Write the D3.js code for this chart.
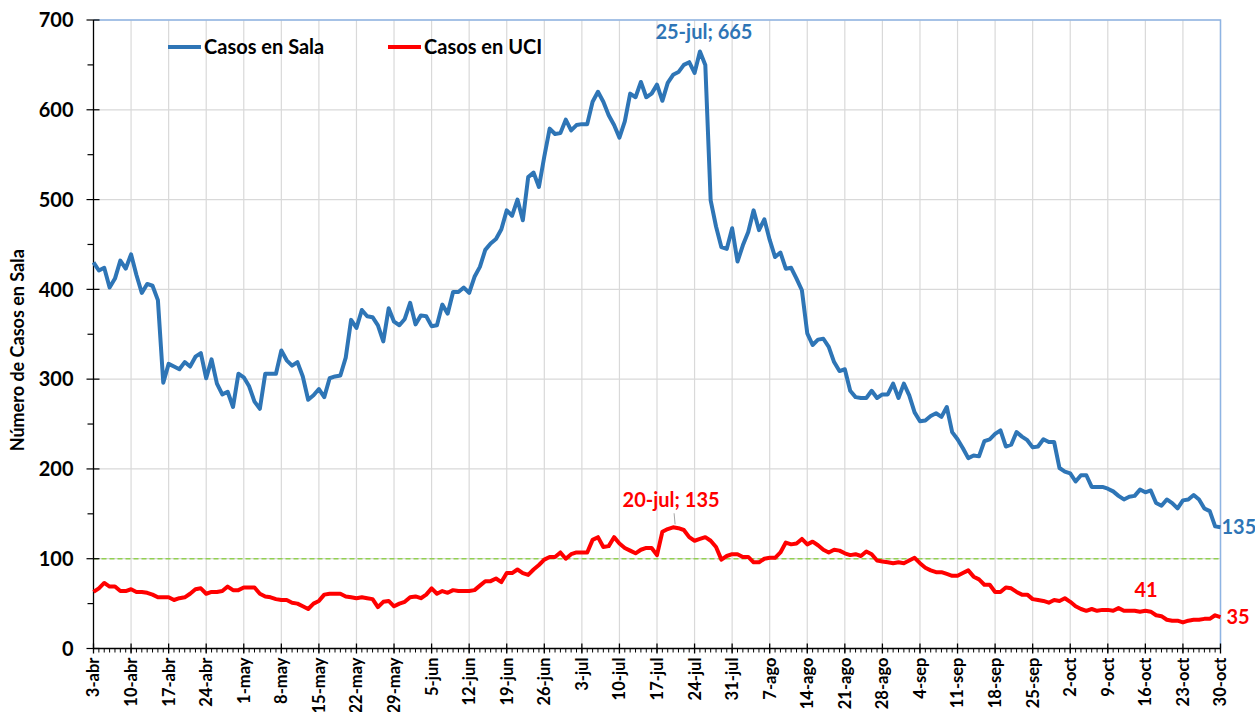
<!DOCTYPE html>
<html>
<head>
<meta charset="utf-8">
<script src="https://cdn.jsdelivr.net/npm/d3@7"></script>
<style>
  body { margin: 0; background: #fff; }
  svg { display: block; font-family: Lato, "Open Sans", sans-serif; }
</style>
</head>
<body>
<svg id="chart" width="1255" height="712"></svg>
<script>
// daily values from 3-abr (index 0) to 30-oct (index 210)
const casosSala = [
  430, 421, 424, 402, 412, 432, 423,
  439, 416, 396, 406, 404, 388, 296,
  317, 314, 311, 319, 314, 325, 329,
  301, 322, 295, 283, 286, 269, 306,
  302, 292, 275, 267, 306, 306, 306,
  332, 321, 315, 319, 303, 277, 282,
  289, 280, 301, 303, 304, 324, 366,
  357, 377, 370, 369, 360, 342, 379,
  364, 360, 367, 385, 361, 371, 370,
  359, 360, 383, 373, 397, 397, 402,
  396, 414, 425, 444, 451, 456, 467,
  488, 482, 500, 477, 525, 530, 514,
  548, 579, 573, 574, 589, 577, 583,
  584, 584, 609, 620, 609, 594, 583,
  569, 587, 618, 614, 631, 614, 618,
  628, 610, 630, 639, 642, 650, 653,
  641, 665, 650, 499, 470, 447, 445,
  468, 431, 449, 464, 488, 466, 478,
  455, 436, 441, 423, 424, 412, 399,
  351, 338, 344, 345, 336, 319, 309,
  311, 287, 280, 279, 279, 287, 279,
  283, 283, 295, 279, 295, 282, 263,
  253, 254, 259, 262, 258, 269, 241,
  233, 223, 212, 215, 214, 231, 233,
  239, 243, 225, 227, 241, 236, 232,
  224, 225, 233, 230, 230, 201, 197,
  195, 186, 193, 193, 180, 180, 180,
  178, 175, 170, 166, 169, 170, 177,
  174, 176, 162, 159, 166, 162, 156,
  165, 166, 171, 166, 156, 153, 136,
  135
];

const casosUci = [
  63, 67, 73, 69, 69, 64, 64,
  66, 63, 63, 62, 60, 57, 57,
  57, 54, 56, 57, 61, 66, 67,
  61, 63, 63, 64, 69, 65, 65,
  68, 68, 68, 61, 58, 57, 55,
  54, 54, 51, 50, 47, 44, 50,
  53, 60, 61, 61, 61, 58, 57,
  56, 57, 56, 55, 46, 52, 53,
  47, 50, 52, 57, 58, 56, 60,
  67, 61, 64, 62, 65, 64, 64,
  64, 65, 70, 75, 75, 78, 74,
  84, 84, 88, 84, 82, 88, 93,
  99, 102, 102, 107, 100, 105, 107,
  107, 107, 121, 124, 113, 114, 124,
  117, 112, 109, 106, 110, 112, 112,
  104, 130, 133, 135, 134, 132, 124,
  120, 122, 124, 120, 113, 99, 103,
  105, 105, 102, 102, 96, 96, 100,
  101, 101, 107, 118, 116, 117, 122,
  116, 119, 115, 110, 107, 110, 109,
  106, 104, 105, 103, 108, 105, 98,
  97, 96, 95, 96, 95, 98, 101,
  95, 90, 87, 85, 85, 83, 81,
  81, 84, 87, 80, 77, 71, 71,
  63, 63, 68, 67, 63, 60, 60,
  55, 54, 53, 51, 54, 53, 56,
  52, 47, 44, 42, 44, 42, 43,
  43, 42, 45, 42, 42, 42, 41,
  42, 41, 37, 36, 32, 31, 31,
  29, 31, 32, 32, 33, 33, 37,
  35
];

const fechasTicks = [
  "3-abr", "10-abr", "17-abr", "24-abr", "1-may", "8-may", "15-may", "22-may",
  "29-may", "5-jun", "12-jun", "19-jun", "26-jun", "3-jul", "10-jul", "17-jul",
  "24-jul", "31-jul", "7-ago", "14-ago", "21-ago", "28-ago", "4-sep", "11-sep",
  "18-sep", "25-sep", "2-oct", "9-oct", "16-oct", "23-oct", "30-oct"
];

const yTicks = [0, 100, 200, 300, 400, 500, 600, 700];
const umbral = 100;

const margin = {top: 20, right: 35, bottom: 63, left: 93};
const width = 1255, height = 712;

const svg = d3.select("#chart");

const nDias = casosSala.length;
const x = d3.scaleLinear()
  .domain([0, nDias - 1])
  .range([margin.left + 0.5, width - margin.right + 0.5]);
const y = d3.scaleLinear()
  .domain([0, 700])
  .range([height - margin.bottom - 0.5, margin.top]);

const tickIdx = fechasTicks.map((d, i) => i * 7);

// grid
svg.append("g")
  .selectAll("line.vg")
  .data(tickIdx.slice(1))
  .join("line")
  .attr("x1", d => x(d)).attr("x2", d => x(d))
  .attr("y1", y(0)).attr("y2", y(700))
  .attr("stroke", "#d9d9d9").attr("stroke-width", 1.2);

svg.append("g")
  .selectAll("line.hg")
  .data(yTicks.slice(1))
  .join("line")
  .attr("x1", x(0)).attr("x2", x(nDias - 1))
  .attr("y1", d => y(d)).attr("y2", d => y(d))
  .attr("stroke", "#d9d9d9").attr("stroke-width", 1.2);

// frame top/right
svg.append("path")
  .attr("d", `M${x(0)},${y(700)}H${x(nDias - 1)}V${y(0)}`)
  .attr("fill", "none").attr("stroke", "#8eb4e3").attr("stroke-width", 1.5);

// threshold line
svg.append("line")
  .attr("x1", x(0)).attr("x2", x(nDias - 1))
  .attr("y1", y(umbral)).attr("y2", y(umbral))
  .attr("stroke", "#92d050").attr("stroke-width", 1.6)
  .attr("stroke-dasharray", "5,3");

// y axis
const yAxis = svg.append("g").attr("transform", `translate(${x(0)},0)`);
yAxis.append("line")
  .attr("y1", y(0)).attr("y2", y(700))
  .attr("stroke", "#000").attr("stroke-width", 1.3);
yAxis.selectAll("line.maj")
  .data(yTicks)
  .join("line")
  .attr("x1", -7).attr("x2", 6)
  .attr("y1", d => y(d)).attr("y2", d => y(d))
  .attr("stroke", "#000").attr("stroke-width", 1.2);
yAxis.selectAll("line.min")
  .data(d3.range(50, 700, 100))
  .join("line")
  .attr("x1", -6).attr("x2", 0)
  .attr("y1", d => y(d)).attr("y2", d => y(d))
  .attr("stroke", "#000").attr("stroke-width", 1.2);
yAxis.selectAll("text")
  .data(yTicks)
  .join("text")
  .attr("x", -20).attr("y", d => y(d))
  .attr("dy", "0.36em")
  .attr("text-anchor", "end")
  .attr("font-size", 20).attr("font-weight", 700)
  .text(d => d);

svg.append("text")
  .attr("transform", `translate(24,${(y(0) + y(700)) / 2 + 16}) rotate(-90)`)
  .attr("text-anchor", "middle")
  .attr("font-size", 18).attr("font-weight", 700)
  .text("Número de Casos en Sala");

// x axis
const xAxis = svg.append("g").attr("transform", `translate(0,${y(0)})`);
xAxis.append("line")
  .attr("x1", x(0)).attr("x2", x(nDias - 1))
  .attr("stroke", "#000").attr("stroke-width", 1.3);
xAxis.selectAll("line.min")
  .data(d3.range(nDias))
  .join("line")
  .attr("x1", d => x(d)).attr("x2", d => x(d))
  .attr("y1", 0).attr("y2", 4)
  .attr("stroke", "#000").attr("stroke-width", 1);
xAxis.selectAll("line.maj")
  .data(tickIdx)
  .join("line")
  .attr("x1", d => x(d)).attr("x2", d => x(d))
  .attr("y1", -5).attr("y2", 5)
  .attr("stroke", "#000").attr("stroke-width", 1.3);
xAxis.selectAll("text")
  .data(fechasTicks)
  .join("text")
  .attr("transform", (d, i) => `translate(${x(tickIdx[i])},9) rotate(-90)`)
  .attr("dy", "0.36em")
  .attr("text-anchor", "end")
  .attr("font-size", 16.5).attr("font-weight", 700)
  .text(d => d);

// series
const line = d3.line()
  .x((d, i) => x(i))
  .y(d => y(d));

svg.append("path")
  .datum(casosUci)
  .attr("d", line)
  .attr("fill", "none").attr("stroke", "#ff0000")
  .attr("stroke-width", 4).attr("stroke-linejoin", "round");

svg.append("path")
  .datum(casosSala)
  .attr("d", line)
  .attr("fill", "none").attr("stroke", "#2e75b6")
  .attr("stroke-width", 4).attr("stroke-linejoin", "round");

// legend
const legend = [
  {label: "Casos en Sala", color: "#2e75b6", x: 168},
  {label: "Casos en UCI", color: "#ff0000", x: 388}
];
const lg = svg.append("g").selectAll("g")
  .data(legend)
  .join("g")
  .attr("transform", d => `translate(${d.x},47)`);
lg.append("line")
  .attr("x1", 0).attr("x2", 33)
  .attr("stroke", d => d.color).attr("stroke-width", 4);
lg.append("text")
  .attr("x", 36).attr("dy", "0.36em")
  .attr("font-size", 20).attr("font-weight", 700)
  .text(d => d.label);

// annotations
const iMaxSala = d3.maxIndex(casosSala);
const iMaxUci = d3.maxIndex(casosUci);
const iUlt = nDias - 1;
const i41 = 195;

svg.append("text")
  .attr("x", x(iMaxSala) + 4).attr("y", y(casosSala[iMaxSala]) - 12)
  .attr("text-anchor", "middle")
  .attr("font-size", 20).attr("font-weight", 700).attr("fill", "#2e75b6")
  .text(`25-jul; ${casosSala[iMaxSala]}`);

svg.append("line")
  .attr("x1", x(iMaxUci) + 1).attr("x2", x(iMaxUci) + 2)
  .attr("y1", y(casosUci[iMaxUci]) - 14).attr("y2", y(casosUci[iMaxUci]) - 3)
  .attr("stroke", "#a6a6a6").attr("stroke-width", 1);
svg.append("text")
  .attr("x", x(iMaxUci) - 2).attr("y", y(casosUci[iMaxUci]) - 20)
  .attr("text-anchor", "middle")
  .attr("font-size", 20).attr("font-weight", 700).attr("fill", "#ff0000")
  .text(`20-jul; ${casosUci[iMaxUci]}`);

svg.append("text")
  .attr("x", x(i41) + 6).attr("y", y(casosUci[i41]) - 15)
  .attr("text-anchor", "middle")
  .attr("font-size", 20).attr("font-weight", 700).attr("fill", "#ff0000")
  .text(casosUci[i41]);

svg.append("text")
  .attr("x", x(iUlt) + 6).attr("y", y(casosUci[iUlt]) + 7)
  .attr("font-size", 20).attr("font-weight", 700).attr("fill", "#ff0000")
  .text(casosUci[iUlt]);

svg.append("text")
  .attr("x", x(iUlt) + 1).attr("y", y(casosSala[iUlt]) + 7)
  .attr("font-size", 20).attr("font-weight", 700).attr("fill", "#2e75b6")
  .text(casosSala[iUlt]);
</script>
</body>
</html>
